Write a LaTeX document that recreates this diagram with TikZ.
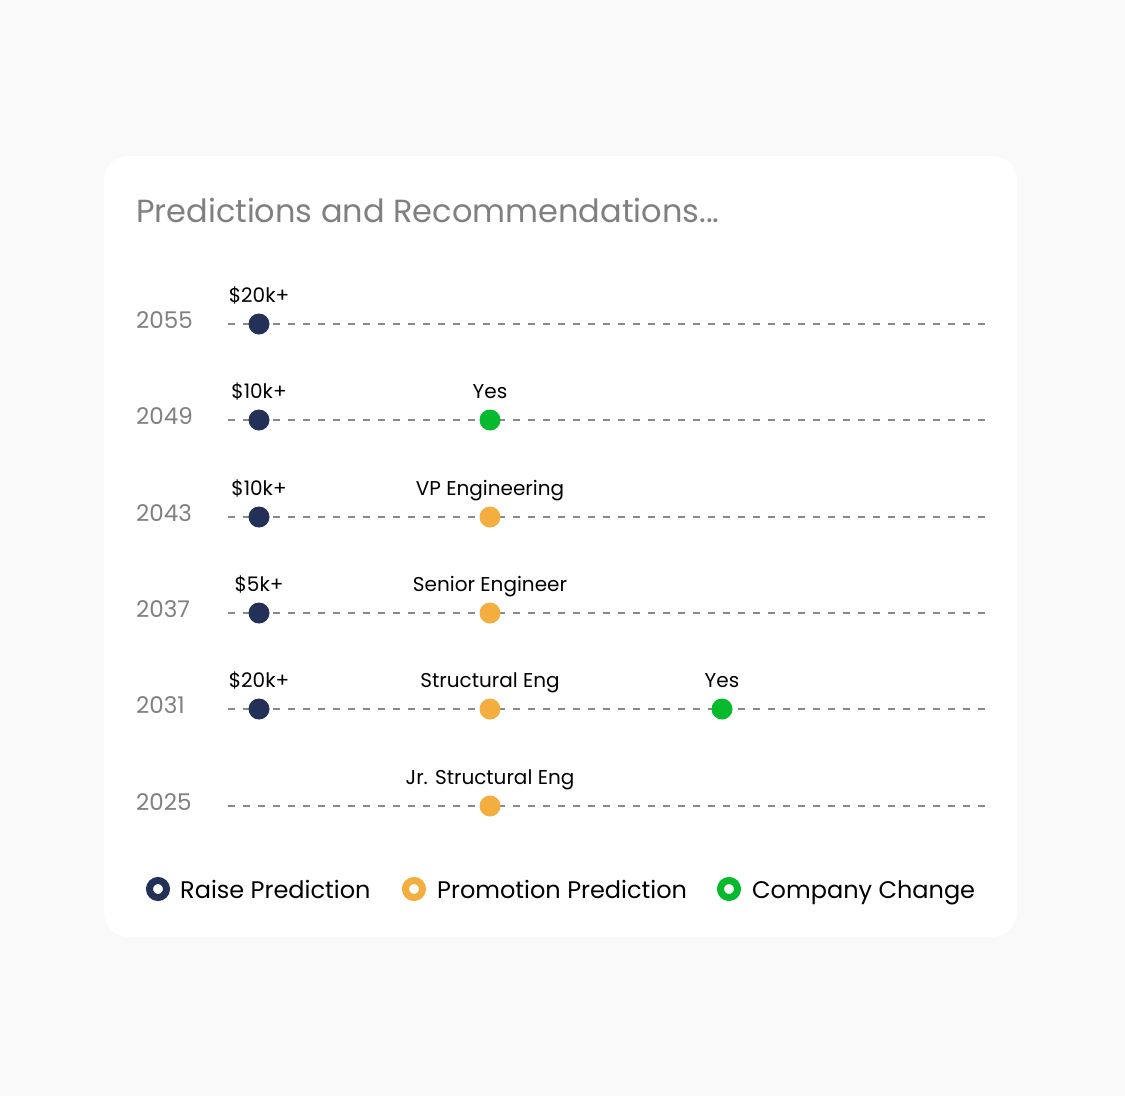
\documentclass[tikz,border=0pt]{standalone}
\usepackage{fontspec}
\setmainfont{Poppins}
\definecolor{bgc}{HTML}{F9F9F9}
\definecolor{navy}{HTML}{233159}
\definecolor{orng}{HTML}{F4AE3F}
\definecolor{grn}{HTML}{05BA2C}
\definecolor{graytxt}{HTML}{808080}
\definecolor{dashc}{HTML}{8A8A8A}
\tikzset{
  yearlbl/.style={anchor=base west, inner sep=0pt, text=graytxt, font=\fontsize{23}{23}\selectfont},
  toplbl/.style={anchor=base, inner sep=0pt, text=black, font=\fontsize{20}{20}\selectfont},
  dotn/.style={circle, inner sep=0pt, minimum size=21pt},
  raise/.style={dotn, fill=navy},
  promo/.style={dotn, fill=orng},
  comp/.style={dotn, fill=grn},
  tline/.style={draw=dashc, line width=1.2pt, dash pattern=on 7pt off 8pt},
  ring/.style={circle, inner sep=0pt, minimum size=17pt, line width=7pt, fill=white},
  legtxt/.style={anchor=base west, inner sep=0pt, text=black, font=\fontsize{24}{24}\selectfont},
}
\begin{document}
\begin{tikzpicture}[x=1pt,y=-1pt]
\fill[bgc] (0,0) rectangle (1125,1096);
\useasboundingbox (0,0) rectangle (1125,1096);
\fill[white, rounded corners=24pt] (104,156) rectangle (1017,937);
\node[anchor=base west, inner sep=0pt, text=graytxt, font=\fontsize{32}{32}\selectfont] (title) at (136,222) {Predictions and Recommendations...};
% rows
\foreach \yy/\yr/\nm in {324/2055/a, 420/2049/b, 517/2043/c, 613/2037/d, 709/2031/e, 806/2025/f} {
  \node[yearlbl] (yr\nm) at (136,\yy+4) {\yr};
  \coordinate (ls\nm) at (228,\yy);
  \coordinate (le\nm) at (987,\yy);
  \draw[tline] (ls\nm) -- (le\nm);
}
% row 2055
\node[raise] (ra) at (259,324) {};
\node[toplbl] (ta) at (259,302) {\$20k+};
% row 2049
\node[raise] (rb) at (259,420) {};
\node[toplbl] (tb) at (259,398) {\$10k+};
\node[comp] (cb) at (490,420) {};
\node[toplbl] (tcb) at (490,398) {Yes};
% row 2043
\node[raise] (rc) at (259,517) {};
\node[toplbl] (tc) at (259,495) {\$10k+};
\node[promo] (pc) at (490,517) {};
\node[toplbl] (tpc) at (490,495) {VP Engineering};
% row 2037
\node[raise] (rd) at (259,613) {};
\node[toplbl] (td) at (259,591) {\$5k+};
\node[promo] (pd) at (490,613) {};
\node[toplbl] (tpd) at (490,591) {Senior Engineer};
% row 2031
\node[raise] (re) at (259,709) {};
\node[toplbl] (te) at (259,687) {\$20k+};
\node[promo] (pe) at (490,709) {};
\node[toplbl] (tpe) at (490,687) {Structural Eng};
\node[comp] (ce) at (722,709) {};
\node[toplbl] (tce) at (722,687) {Yes};
% row 2025
\node[promo] (pf) at (490,806) {};
\node[toplbl] (tpf) at (490,784) {Jr. Structural Eng};
% legend
\node[ring, draw=navy] (l1) at (158,889) {};
\node[legtxt] (l1t) at (180,898) {Raise Prediction};
\node[ring, draw=orng] (l2) at (414,889) {};
\node[legtxt] (l2t) at (437,898) {Promotion Prediction};
\node[ring, draw=grn] (l3) at (729,889) {};
\node[legtxt] (l3t) at (752,898) {Company Change};
\end{tikzpicture}
\end{document}
